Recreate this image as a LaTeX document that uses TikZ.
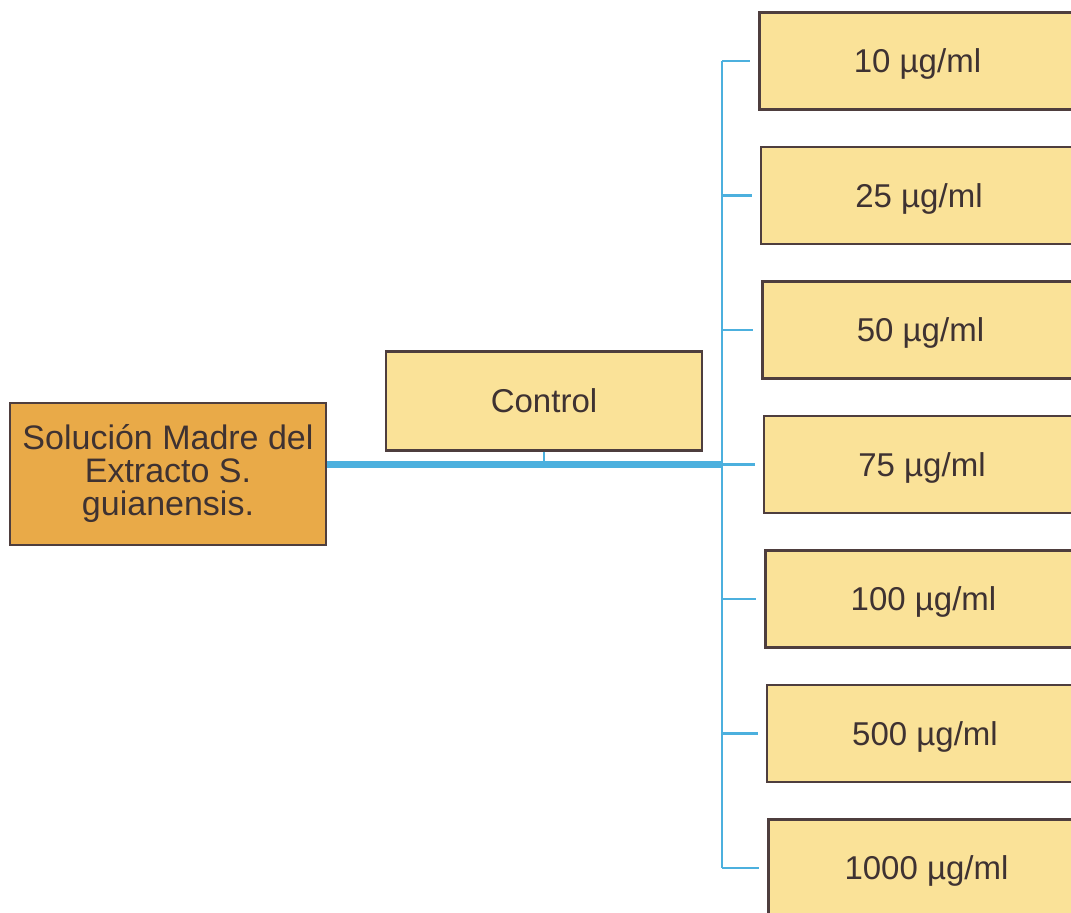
\documentclass[tikz,border=0pt]{standalone}
\usepackage{fontspec}
\setmainfont{Liberation Sans}
\usetikzlibrary{positioning,calc}
\definecolor{srcorange}{RGB}{233,170,72}
\definecolor{boxyellow}{RGB}{250,226,152}
\definecolor{boxedge}{RGB}{78,62,62}
\definecolor{linkblue}{RGB}{76,176,222}
\definecolor{txtdark}{RGB}{62,50,50}
\tikzset{
  box/.style={draw=boxedge, line width=2.2pt, text=txtdark,
              font=\fontsize{33}{33}\selectfont, align=center, inner sep=0pt},
  srcbox/.style={box, fill=srcorange, minimum width=316pt, minimum height=142pt,
                 font=\fontsize{34}{33}\selectfont},
  ctrlbox/.style={box, fill=boxyellow, minimum width=316pt, minimum height=99pt},
  dosebox/.style={box, fill=boxyellow, minimum width=316pt, minimum height=97pt,
                  text depth=0pt},
  trunk/.style={linkblue, line width=7pt},
  branch/.style={linkblue, line width=2.5pt},
}

\begin{document}
\begin{tikzpicture}[x=1pt, y=-1pt]
  \clip (0,0) rectangle (1071,913);
  \fill[white] (0,0) rectangle (1071,913);
  \node[srcbox] (src) at (168,474) {Solución Madre del\\Extracto S.\\guianensis.};
  \node[ctrlbox] (ctrl) at (544,401) {Control};
  \foreach \d [count=\i] in {10,25,50,75,100,500,1000}
    \node[dosebox] (c\i) at (916+1.5*\i, 61+134.5*\i-134.5) {\d~µg/ml};
  \coordinate (hub) at (722,464);
  % stock solution to the dilutions
  \draw[trunk] (src.east |- hub) -- (hub);
  \draw[branch] (hub |- c1) -- (hub |- c7);
  \foreach \i in {1,...,7}
    \draw[branch] (hub |- c\i) -- ([xshift=-8pt]c\i.west);
  \draw[branch, line width=1.5pt] (ctrl.south) -- (ctrl.south |- hub);
\end{tikzpicture}
\end{document}
